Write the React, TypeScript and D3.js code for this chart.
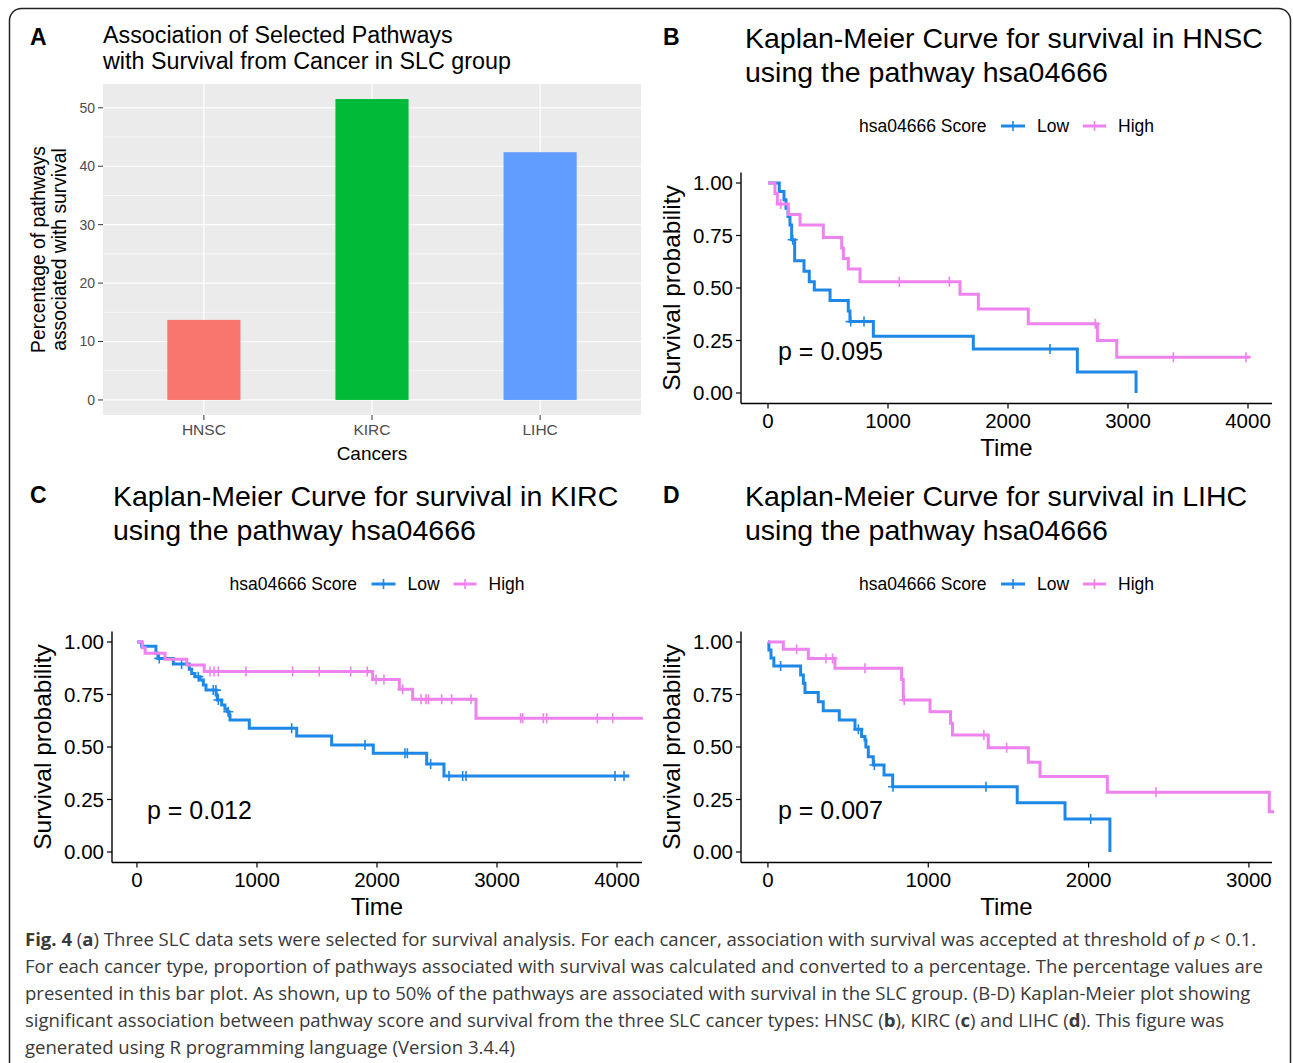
import React from 'react';
import * as d3 from 'd3';

// ---- panel A: bar chart ----
const barCancers = ['HNSC', 'KIRC', 'LIHC'];
const barPercent = [13.7, 51.5, 42.4];
const barColors = ['#F8766D', '#00BA38', '#619CFF'];
const barTicks = [0, 10, 20, 30, 40, 50];

// ---- KM curves: [time, survival] step points ----
const hnscLow: [number, number][] = [
  [0, 1.0], [94, 0.96], [133, 0.92], [150, 0.88], [167, 0.84], [183, 0.8], [197, 0.73],
  [222, 0.63], [300, 0.58], [344, 0.53], [386, 0.49], [517, 0.44], [669, 0.39], [683, 0.34],
  [878, 0.27], [1711, 0.21], [2578, 0.1], [3067, 0.0],
];
const hnscLowCensor = [206, 689, 800, 2350];
const hnscHigh: [number, number][] = [
  [0, 1.0], [58, 0.95], [78, 0.9], [169, 0.85], [267, 0.8], [461, 0.74], [614, 0.69],
  [628, 0.64], [669, 0.59], [767, 0.53], [1600, 0.47], [1753, 0.4], [2169, 0.33],
  [2745, 0.25], [2906, 0.17], [4017, 0.17],
];
const hnscHighCensor = [106, 1094, 1511, 2728, 3378, 3983];

const kircLow: [number, number][] = [
  [0, 1.0], [39, 0.98], [158, 0.946], [175, 0.922], [303, 0.895], [436, 0.87], [456, 0.85],
  [483, 0.835], [525, 0.819], [553, 0.795], [575, 0.771], [660, 0.748], [669, 0.724],
  [706, 0.7], [733, 0.68], [755, 0.668], [768, 0.652], [775, 0.629], [936, 0.589],
  [1331, 0.552], [1622, 0.509], [1969, 0.47], [2414, 0.419], [2558, 0.362], [4103, 0.362],
];
const kircLowCensor = [186, 372, 511, 636, 658, 678, 761, 1289, 1900, 2233, 2253, 2447, 2600, 2714, 2742, 3983, 4058];
const kircHigh: [number, number][] = [
  [0, 1.0], [45, 0.973], [68, 0.946], [234, 0.918], [415, 0.89], [560, 0.859],
  [1964, 0.822], [2186, 0.775], [2297, 0.727], [2825, 0.637], [4215, 0.637],
];
const kircHighCensor = [608, 642, 678, 908, 1297, 1519, 1781, 1919, 1992, 2058, 2214, 2367, 2408, 2428, 2539, 2622, 2783, 3197, 3214, 3386, 3414, 3836, 3964];

const lihcLow: [number, number][] = [
  [0, 1.0], [6, 0.962], [19, 0.924], [37, 0.886], [204, 0.843], [221, 0.803], [231, 0.759],
  [314, 0.716], [345, 0.673], [445, 0.629], [543, 0.584], [584, 0.55], [605, 0.533],
  [611, 0.5], [626, 0.454], [657, 0.414], [724, 0.367], [778, 0.311], [1555, 0.235],
  [1853, 0.157], [2133, 0.0],
];
const lihcLowCensor = [79, 564, 664, 780, 1360, 2013];
const lihcHigh: [number, number][] = [
  [0, 1.0], [96, 0.965], [252, 0.922], [418, 0.875], [834, 0.822], [844, 0.724],
  [1011, 0.668], [1139, 0.613], [1151, 0.557], [1374, 0.497], [1624, 0.427], [1697, 0.359],
  [2117, 0.284], [3127, 0.192], [3157, 0.192],
];
const lihcHighCensor = [179, 362, 403, 605, 850, 1347, 1489, 2420];

const survTicks = [0, 0.25, 0.5, 0.75, 1];
const lowColor = '#1E88E8';
const highColor = '#EE82EE';
const FONT = '"Liberation Sans", Arial, Helvetica, sans-serif';
const CAP_FONT = '"Open Sans", "Noto Sans", sans-serif';

const captionLines = [
  [['b', 'Fig. 4'], ['n', ' ('], ['b', 'a'], ['n', ') Three SLC data sets were selected for survival analysis. For each cancer, association with survival was accepted at threshold of '], ['i', 'p'], ['n', ' < 0.1.']],
  [['n', 'For each cancer type, proportion of pathways associated with survival was calculated and converted to a percentage. The percentage values are']],
  [['n', 'presented in this bar plot. As shown, up to 50% of the pathways are associated with survival in the SLC group. (B-D) Kaplan-Meier plot showing']],
  [['n', 'significant association between pathway score and survival from the three SLC cancer types: HNSC ('], ['b', 'b'], ['n', '), KIRC ('], ['b', 'c'], ['n', ') and LIHC ('], ['b', 'd'], ['n', '). This figure was']],
  [['n', 'generated using R programming language (Version 3.4.4)']],
];
const captionRefWidth = 1239; // width of the second caption line in the figure

function BarPanel() {
  const left = 103, right = 641, top = 84, bottom = 415;
  const x = d3.scalePoint().domain(barCancers).range([left, right]).padding(0.6);
  const barW = x.step() * 0.435;
  const maxV = d3.max(barPercent) as number;
  const y = d3.scaleLinear().domain([-maxV * 0.05, maxV * 1.05]).range([bottom, top]);
  const minor = d3.range(5, 55, 10);
  return (
    <g fontFamily={FONT}>
      <text x={30} y={45} fontSize={23} fontWeight="bold">A</text>
      <text x={103} y={43} fontSize={23.3}>Association of Selected Pathways</text>
      <text x={103} y={68.5} fontSize={23.3}>with Survival from Cancer in SLC group</text>
      <rect x={left} y={top} width={right - left} height={bottom - top} fill="#EBEBEB" />
      {minor.map((v) => (
        <line key={'m' + v} x1={left} x2={right} y1={y(v)} y2={y(v)} stroke="#fff" strokeWidth={0.6} />
      ))}
      {barTicks.map((v) => (
        <line key={'g' + v} x1={left} x2={right} y1={y(v)} y2={y(v)} stroke="#fff" strokeWidth={1.2} />
      ))}
      {barCancers.map((c) => (
        <line key={'v' + c} x1={x(c)} x2={x(c)} y1={top} y2={bottom} stroke="#fff" strokeWidth={1.2} />
      ))}
      {barCancers.map((c, i) => (
        <rect key={c} x={(x(c) as number) - barW / 2} y={y(barPercent[i])} width={barW}
          height={y(0) - y(barPercent[i])} fill={barColors[i]} />
      ))}
      {barTicks.map((v) => (
        <g key={'t' + v}>
          <line x1={left - 5} x2={left} y1={y(v)} y2={y(v)} stroke="#333" strokeWidth={1} />
          <text x={left - 8} y={y(v)} dy="0.35em" textAnchor="end" fontSize={14} fill="#4D4D4D">{v}</text>
        </g>
      ))}
      {barCancers.map((c) => (
        <g key={'x' + c}>
          <line x1={x(c)} x2={x(c)} y1={bottom} y2={bottom + 5} stroke="#333" strokeWidth={1} />
          <text x={x(c)} y={434.5} textAnchor="middle" fontSize={15.5} fill="#4D4D4D">{c}</text>
        </g>
      ))}
      <text x={(left + right) / 2} y={460} textAnchor="middle" fontSize={19}>Cancers</text>
      <g transform={`translate(44.5,${(top + bottom) / 2}) rotate(-90)`}>
        <text textAnchor="middle" fontSize={19.3}>Percentage of pathways</text>
      </g>
      <g transform={`translate(65.5,${(top + bottom) / 2}) rotate(-90)`}>
        <text textAnchor="middle" fontSize={19.3}>associated with survival</text>
      </g>
    </g>
  );
}

type KMCfg = {
  letter: string; letterX: number; letterY: number;
  titleX: number; titleY: number; cancer: string;
  x0: number; x1: number; yTop: number; yBottom: number;
  xDomain: [number, number]; xTicks: number[];
  low: [number, number][]; lowC: number[];
  high: [number, number][]; highC: number[];
  p: string; legendY: number;
};

function survAt(steps: [number, number][], t: number) {
  const i = d3.bisector((d: [number, number]) => d[0]).right(steps, t) - 1;
  return steps[Math.max(0, i)][1];
}

function KMPanel({ cfg }: { cfg: KMCfg }) {
  const x = d3.scaleLinear().domain(cfg.xDomain).range([cfg.x0, cfg.x1]);
  const y = d3.scaleLinear().domain([-0.05, 1.05]).range([cfg.yBottom, cfg.yTop]);
  const line = d3.line<[number, number]>().x((d) => x(d[0])).y((d) => y(d[1])).curve(d3.curveStepAfter);
  const cross = (cx: number, cy: number, color: string, k: string) => (
    <path key={k} d={`M${cx - 5},${cy}H${cx + 5}M${cx},${cy - 5}V${cy + 5}`} stroke={color} strokeWidth={1.6} fill="none" />
  );
  const midX = (cfg.x0 + cfg.x1) / 2;
  const L = midX - 147.5;
  const ly = cfg.legendY;
  return (
    <g fontFamily={FONT}>
      <text x={cfg.letterX} y={cfg.letterY} fontSize={23} fontWeight="bold">{cfg.letter}</text>
      <text x={cfg.titleX} y={cfg.titleY} fontSize={28.5}>{`Kaplan-Meier Curve for survival in ${cfg.cancer}`}</text>
      <text x={cfg.titleX} y={cfg.titleY + 34} fontSize={28.5}>using the pathway hsa04666</text>
      {/* legend */}
      <text x={L} y={ly} dy="0.35em" fontSize={17.5}>hsa04666 Score</text>
      <line x1={L + 142} x2={L + 166} y1={ly} y2={ly} stroke={lowColor} strokeWidth={3} />
      {cross(L + 154, ly, lowColor, 'lk')}
      <text x={L + 178} y={ly} dy="0.35em" fontSize={17.5}>Low</text>
      <line x1={L + 224} x2={L + 247} y1={ly} y2={ly} stroke={highColor} strokeWidth={3} />
      {cross(L + 235.5, ly, highColor, 'hk')}
      <text x={L + 259} y={ly} dy="0.35em" fontSize={17.5}>High</text>
      {/* curves */}
      <path d={line(cfg.low) as string} fill="none" stroke={lowColor} strokeWidth={3} />
      {cfg.lowC.map((t, i) => cross(x(t), y(survAt(cfg.low, t)), lowColor, 'lc' + i))}
      <path d={line(cfg.high) as string} fill="none" stroke={highColor} strokeWidth={3} />
      {cfg.highC.map((t, i) => cross(x(t), y(survAt(cfg.high, t)), highColor, 'hc' + i))}
      <text x={x(0) + 10} y={y(0.2)} dy="0.35em" fontSize={25}>{cfg.p}</text>
      {/* axes */}
      <line x1={cfg.x0} x2={cfg.x0} y1={cfg.yTop} y2={cfg.yBottom} stroke="#000" strokeWidth={1.4} />
      <line x1={cfg.x0} x2={cfg.x1} y1={cfg.yBottom} y2={cfg.yBottom} stroke="#000" strokeWidth={1.4} />
      {survTicks.map((v) => (
        <g key={'y' + v}>
          <line x1={cfg.x0 - 5} x2={cfg.x0} y1={y(v)} y2={y(v)} stroke="#000" strokeWidth={1.2} />
          <text x={cfg.x0 - 8} y={y(v)} dy="0.35em" textAnchor="end" fontSize={20.5}>{v.toFixed(2)}</text>
        </g>
      ))}
      {cfg.xTicks.map((v) => (
        <g key={'x' + v}>
          <line x1={x(v)} x2={x(v)} y1={cfg.yBottom} y2={cfg.yBottom + 5} stroke="#000" strokeWidth={1.2} />
          <text x={x(v)} y={cfg.yBottom + 24.5} textAnchor="middle" fontSize={20.5}>{v}</text>
        </g>
      ))}
      <text x={midX} y={cfg.yBottom + 52.5} textAnchor="middle" fontSize={24}>Time</text>
      <g transform={`translate(${cfg.x0 - 61},${(cfg.yTop + cfg.yBottom) / 2}) rotate(-90)`}>
        <text textAnchor="middle" fontSize={24.5}>Survival probability</text>
      </g>
    </g>
  );
}

const panelB: KMCfg = {
  letter: 'B', letterX: 663, letterY: 45, titleX: 745, titleY: 48, cancer: 'HNSC',
  x0: 741, x1: 1272, yTop: 172.5, yBottom: 403.5, xDomain: [-225, 4200], xTicks: [0, 1000, 2000, 3000, 4000],
  low: hnscLow, lowC: hnscLowCensor, high: hnscHigh, highC: hnscHighCensor, p: 'p = 0.095', legendY: 126,
};
const panelC: KMCfg = {
  letter: 'C', letterX: 30, letterY: 503, titleX: 113, titleY: 506, cancer: 'KIRC',
  x0: 112, x1: 642, yTop: 631.5, yBottom: 862.5, xDomain: [-208, 4208], xTicks: [0, 1000, 2000, 3000, 4000],
  low: kircLow, lowC: kircLowCensor, high: kircHigh, highC: kircHighCensor, p: 'p = 0.012', legendY: 584,
};
const panelD: KMCfg = {
  letter: 'D', letterX: 663, letterY: 503, titleX: 745, titleY: 506, cancer: 'LIHC',
  x0: 741, x1: 1272, yTop: 631.5, yBottom: 862.5, xDomain: [-168, 3144], xTicks: [0, 1000, 2000, 3000],
  low: lihcLow, lowC: lihcLowCensor, high: lihcHigh, highC: lihcHighCensor, p: 'p = 0.007', legendY: 584,
};

// canvas measuring, so caption segments can sit side by side at their natural widths
const measureCtx = typeof document !== 'undefined' ? document.createElement('canvas').getContext('2d') : null;
function textWidth(s: string, style: string, size: number) {
  if (!measureCtx) return s.length * size * 0.5;
  const w = style === 'b' ? 'bold ' : '';
  const it = style === 'i' ? 'italic ' : '';
  measureCtx.font = `${it}${w}${size}px ${CAP_FONT}`;
  return measureCtx.measureText(s).width;
}

function Caption() {
  const base = textWidth(captionLines[1][0][1], 'n', 20);
  const size = Math.min(19, (20 * captionRefWidth) / (base || 1));
  return (
    <g fontFamily={CAP_FONT} fontSize={size} fill="#3a3a3a">
      {captionLines.map((parts, i) => {
        let cx = 25;
        return parts.map((p, j) => {
          const el = (
            <text key={i + '-' + j} x={cx} y={946 + i * 27}
              fontWeight={p[0] === 'b' ? 'bold' : undefined} fontStyle={p[0] === 'i' ? 'italic' : undefined}
              xmlSpace="preserve" style={{ whiteSpace: 'pre' }}>
              {p[1]}
            </text>
          );
          cx += textWidth(p[1], p[0], size);
          return el;
        });
      })}
    </g>
  );
}

export default function App() {
  return (
    <svg width={1293} height={1063} style={{ position: 'absolute', left: 0, top: 0, background: '#fff' }}>
      <rect x={0} y={0} width={1293} height={1063} fill="#fff" />
      <rect x={9.5} y={8.5} width={1281} height={1080} rx={12} fill="none" stroke="#222" strokeWidth={1.5} />
      <BarPanel />
      <KMPanel cfg={panelB} />
      <KMPanel cfg={panelC} />
      <KMPanel cfg={panelD} />
      <Caption />
    </svg>
  );
}
